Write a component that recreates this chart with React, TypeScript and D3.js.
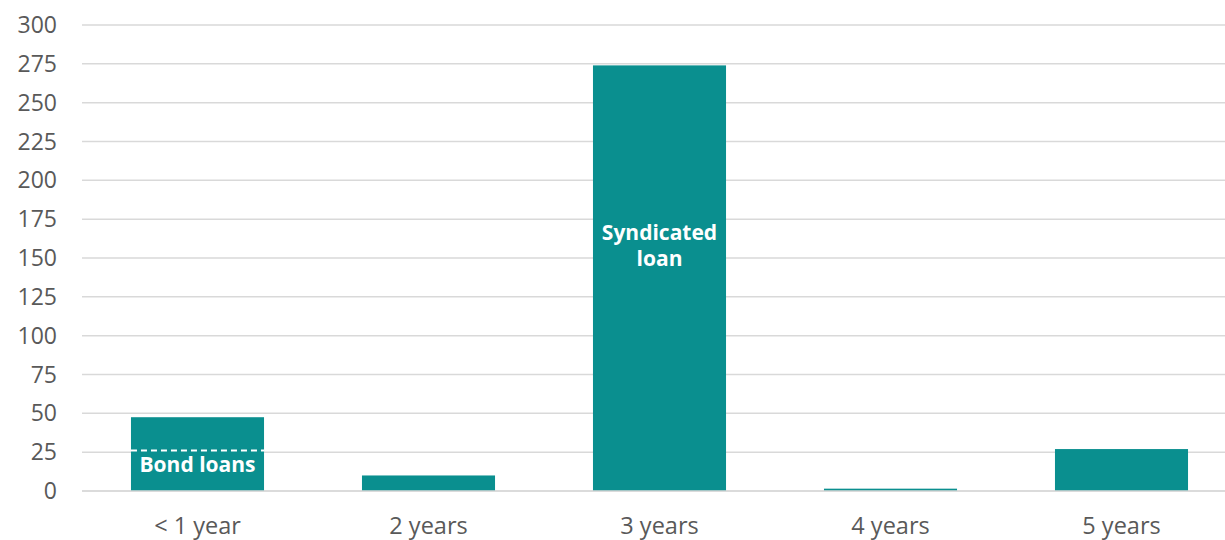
import React from "react";
import * as d3 from "d3";

const categories = ["< 1 year", "2 years", "3 years", "4 years", "5 years"];
const values = [47.5, 10, 274, 1.5, 27];
const bondLoansLevel = 26;
const yTicks = [0, 25, 50, 75, 100, 125, 150, 175, 200, 225, 250, 275, 300];
const syndicatedLines = ["Syndicated", "loan"];

const W = 1225;
const H = 540;
const teal = "#0a8f8f";
const font = "'Open Sans', sans-serif";

export default function App() {
  const x = d3.scaleBand<string>().domain(categories).range([82, 1237]).paddingInner(0.424).paddingOuter(0.212);
  const y = d3.scaleLinear().domain([0, 300]).range([491, 25]);

  const bw = x.bandwidth();
  const x0 = x(categories[0])!;
  const x2 = x(categories[2])!;

  return (
    <svg width={W} height={H} style={{ position: "absolute", left: 0, top: 0, display: "block" }} fontFamily={font}>
      <rect width={W} height={H} fill="#fff" />
      {yTicks.map((t) => (
        <g key={t}>
          <line x1={82} x2={W} y1={y(t)} y2={y(t)} stroke="#d9d9d9" strokeWidth={1.5} />
          <text x={57} y={y(t)} dy="0.35em" textAnchor="end" fontSize={23} fill="#595959">
            {t}
          </text>
        </g>
      ))}
      {categories.map((c, i) => (
        <rect key={c} x={x(c)} y={y(values[i])} width={bw} height={y(0) - y(values[i])} fill={teal} />
      ))}
      <line x1={82} x2={W} y1={y(0)} y2={y(0)} stroke="#d9d9d9" strokeWidth={1.5} />
      <line
        x1={x0}
        x2={x0 + bw}
        y1={y(bondLoansLevel)}
        y2={y(bondLoansLevel)}
        stroke="#fff"
        strokeWidth={2}
        strokeDasharray="6 4"
      />
      <text x={x0 + bw / 2} y={y(bondLoansLevel) + 21} textAnchor="middle" fontSize={21} fontWeight="bold" fill="#fff">
        Bond loans
      </text>
      {syndicatedLines.map((line, i) => (
        <text key={line} x={x2 + bw / 2} y={240 + i * 26} textAnchor="middle" fontSize={21} fontWeight="bold" fill="#fff">
          {line}
        </text>
      ))}
      {categories.map((c) => (
        <text key={c} x={x(c)! + bw / 2} y={526} dy="0.35em" textAnchor="middle" fontSize={23.5} fill="#595959">
          {c}
        </text>
      ))}
    </svg>
  );
}
